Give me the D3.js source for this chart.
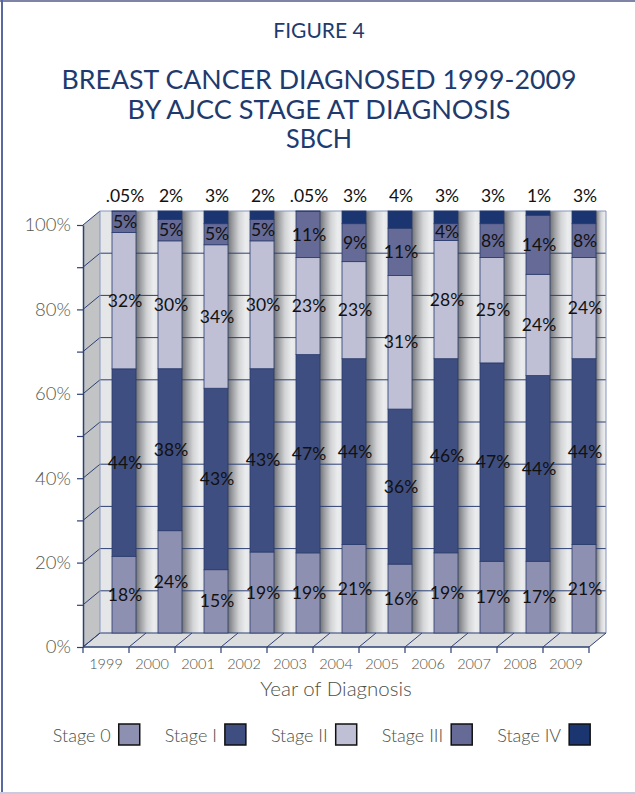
<!DOCTYPE html>
<html><head><meta charset="utf-8">
<script src="https://cdn.jsdelivr.net/npm/d3@7"></script>
<style>
body{margin:0;background:#fff;}
svg{display:block;}
text{font-family:Lato,"Open Sans","DejaVu Sans",sans-serif;}
</style>
</head><body>
<svg id="c" width="635" height="794"></svg>
<script>
// ---- data ----
const years = ['1999','2000','2001','2002','2003','2004','2005','2006','2007','2008','2009'];
const stages = ['Stage 0','Stage I','Stage II','Stage III','Stage IV'];
const stage0 = [18,24,15,19,19,21,16,19,17,17,21];
const stage1 = [44,38,43,43,47,44,36,46,47,44,44];
const stage2 = [32,30,34,30,23,23,31,28,25,24,24];
const stage3 = [5,5,5,5,11,9,11,4,8,14,8];
const stage4 = [0.05,2,3,2,0.05,3,4,3,3,1,3];
const yTickValues = [0,0.1,0.2,0.3,0.4,0.5,0.6,0.7,0.8,0.9,1];
const colors = ['#8e90b1','#3f4e80','#bfc0d6','#656a97','#1b3570'];
const titleLines = ['BREAST CANCER DIAGNOSED 1999-2009','BY AJCC STAGE AT DIAGNOSIS','SBCH'];

const seriesArrays = [stage0,stage1,stage2,stage3,stage4];
const rows = years.map((yr,i)=>{const r={year:yr}; stages.forEach((s,k)=>r[s]=seriesArrays[k][i]); return r;});

const svg = d3.select('#c');
const defs = svg.append('defs');
const grad = defs.append('linearGradient').attr('id','shade').attr('x1','0').attr('x2','1').attr('y1','0').attr('y2','0');
[['0','#737477'],['0.2','#9c9da0'],['0.5','#d3d4d6'],['0.8','#ebeced'],['1','#e6e7e9']].forEach(s=>grad.append('stop').attr('offset',s[0]).attr('stop-color',s[1]));

// frame
svg.append('line').attr('x1',0).attr('x2',635).attr('y1',1).attr('y2',1).attr('stroke','#7d84a8').attr('stroke-width',2);
svg.append('line').attr('x1',2).attr('x2',2).attr('y1',0).attr('y2',794).attr('stroke','#5a68a0').attr('stroke-width',2);
svg.append('line').attr('x1',0).attr('x2',635).attr('y1',793).attr('y2',793).attr('stroke','#c9cadf').attr('stroke-width',2);

// titles
svg.append('text').attr('x',319).attr('y',38).attr('text-anchor','middle').attr('font-size',21).attr('fill','#1e3a6e').text('FIGURE 4');
const tw = [515,383,66];
titleLines.forEach((t,i)=>{
  svg.append('text').attr('x',319).attr('y',89+i*29.5).attr('text-anchor','middle').attr('font-size',26.5)
    .attr('fill','#1e3a6e').attr('textLength',tw[i]).attr('lengthAdjust','spacingAndGlyphs').text(t);
});

// geometry
const fx0=83, fy0=647, fy1=225, dx=17, dy=14, plotW=506;
const x = d3.scaleBand().domain(years).range([fx0,fx0+plotW]);
const y = d3.scaleLinear().domain([0,1]).range([fy0,fy1]);
const barW = 24;
const barX = yr => x(yr)+dx+(x.bandwidth()-barW)/2+1;

const stacked = d3.stack().keys(stages).offset(d3.stackOffsetExpand)(rows);

// side wall
svg.append('polygon').attr('points',[[fx0,fy1],[fx0+dx,fy1-dy],[fx0+dx,fy0-dy],[fx0,fy0]].join(' ')).attr('fill','#c2c3c5');
// floor
svg.append('polygon').attr('points',[[fx0,fy0],[fx0+dx,fy0-dy],[fx0+plotW+dx,fy0-dy],[fx0+plotW,fy0]].join(' ')).attr('fill','#dcdddf');
// back wall
svg.append('rect').attr('x',fx0+dx).attr('y',fy1-dy).attr('width',plotW).attr('height',fy0-fy1).attr('fill','#e5e6e8');
// shading right of bars
years.forEach((yr,i)=>{
  const r = barX(yr)+barW;
  const nxt = i<years.length-1 ? barX(years[i+1]) : fx0+dx+plotW;
  svg.append('rect').attr('x',r).attr('y',fy1-dy).attr('width',nxt-r).attr('height',fy0-fy1).attr('fill','url(#shade)');
});
// gridlines
const gridC = '#2e4074';
yTickValues.forEach(t=>{
  const yy = y(t);
  svg.append('line').attr('x1',fx0+dx).attr('x2',fx0+dx+plotW).attr('y1',yy-dy).attr('y2',yy-dy)
    .attr('stroke', t===1 ? '#8896bd' : gridC).attr('stroke-width',1);
  svg.append('line').attr('x1',fx0).attr('y1',yy).attr('x2',fx0+dx).attr('y2',yy-dy).attr('stroke',gridC).attr('stroke-width',1);
});
svg.append('line').attr('x1',fx0+dx).attr('x2',fx0+dx).attr('y1',fy1-dy).attr('y2',fy0-dy).attr('stroke','#8896bd');
svg.append('line').attr('x1',fx0+dx+plotW).attr('x2',fx0+dx+plotW).attr('y1',fy1-dy).attr('y2',fy0-dy).attr('stroke','#8896bd');

// floor lines and x ticks
const bounds = years.map(yr=>x(yr)).concat([fx0+plotW]);
bounds.forEach(b=>{
  svg.append('line').attr('x1',b).attr('y1',fy0).attr('x2',b+dx).attr('y2',fy0-dy).attr('stroke',gridC).attr('stroke-width',1);
  svg.append('line').attr('x1',b).attr('y1',fy0).attr('x2',b).attr('y2',fy0+6).attr('stroke',gridC).attr('stroke-width',1.2);
});
svg.append('line').attr('x1',fx0).attr('x2',fx0+plotW).attr('y1',fy0).attr('y2',fy0).attr('stroke',gridC).attr('stroke-width',1.5);

// bars
const barG = svg.append('g');
stacked.forEach((s,k)=>{
  barG.selectAll(null).data(s).enter().append('rect')
    .attr('x',d=>barX(d.data.year)).attr('width',barW)
    .attr('y',d=>y(d[1])-dy).attr('height',d=>Math.max(0,y(d[0])-y(d[1])))
    .attr('fill',colors[k]).attr('stroke','#2a3b6c').attr('stroke-width',0.8);
});

// y axis
const yAxis = d3.axisLeft(y).tickValues(yTickValues).tickSize(6).tickSizeOuter(0).tickPadding(6)
  .tickFormat(d=>Math.round(d*100)%20===0 ? d3.format('.0%')(d) : '');
const ya = svg.append('g').attr('transform',`translate(${fx0},0)`).call(yAxis);
ya.select('.domain').attr('stroke',gridC).attr('stroke-width',1.5);
ya.selectAll('.tick line').attr('stroke',gridC).attr('stroke-width',1.2);
ya.selectAll('.tick text').attr('font-size',18.5).attr('font-weight',300).attr('fill','#55584c').attr('font-family','Lato,sans-serif');

// x axis labels
const xAxis = d3.axisBottom(x).tickSize(0).tickPadding(12);
const xa = svg.append('g').attr('transform',`translate(0,${fy0})`).call(xAxis);
xa.select('.domain').remove();
xa.selectAll('.tick text').attr('font-size',14.5).attr('font-weight',300).attr('fill','#4d5046').attr('font-family','Lato,sans-serif');

svg.append('text').attr('x',336).attr('y',696).attr('text-anchor','middle').attr('font-size',20.5).attr('font-weight',300).attr('fill','#4d5046').text('Year of Diagnosis');

// value labels
const fmt = v => (v<1 ? String(v).replace(/^0/,'') : String(v)) + '%';
const labG = svg.append('g').attr('font-size',17.5).attr('fill','#111').attr('text-anchor','middle');
stacked.forEach((s,k)=>{
  labG.selectAll(null).data(s).enter().append('text')
    .attr('x',d=>barX(d.data.year)+barW/2+1)
    .attr('y',d=> k===4 ? y(1)-dy-15 : (y(d[0])+y(d[1]))/2-dy)
    .attr('dy','0.35em')
    .text(d=>fmt(d.data[stages[k]]));
});

// legend
const leg = svg.append('g');
let cx = 0;
stages.forEach((s,k)=>{
  const g = leg.append('g');
  const t = g.append('text').attr('x',cx).attr('y',742).attr('font-size',18).attr('font-weight',300).attr('fill','#4d5046').text(s);
  const w = t.node().getComputedTextLength();
  g.append('rect').attr('x',cx+w+8).attr('y',724).attr('width',21).attr('height',21).attr('fill',colors[k]).attr('stroke','#111').attr('stroke-width',1.5);
  cx += w+8+21+25;
});
const total = cx-25;
leg.attr('transform',`translate(${321.5-total/2},0)`);
</script>
</body></html>
